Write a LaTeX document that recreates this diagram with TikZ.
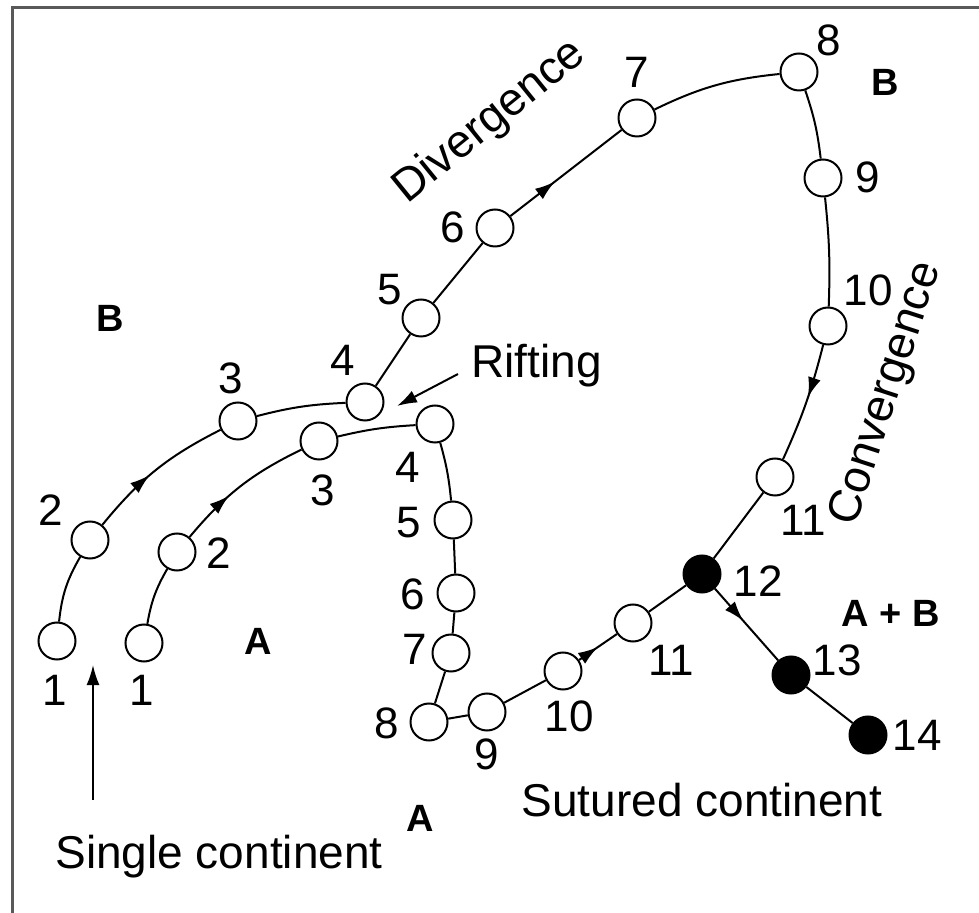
\documentclass[tikz,border=0pt]{standalone}
\usepackage{fontspec}
\setmainfont{Liberation Sans}
\usetikzlibrary{arrows.meta,decorations.markings}

\tikzset{
  plate/.style={circle, draw, line width=1pt, minimum size=18.5pt, inner sep=0pt, fill=white},
  sutured/.style={plate, fill=black},
  num/.style={font=\fontsize{22}{26}\selectfont, inner sep=0pt},
  caption/.style={font=\fontsize{23}{27}\selectfont, inner sep=0pt},
  region/.style={font=\fontsize{19}{22}\selectfont\bfseries, inner sep=0pt},
  track/.style={line width=1pt},
  midarrow/.style={postaction={decorate}, decoration={markings, mark=at position #1 with {\arrow{Latex[length=10pt,width=6.5pt]}}}},
  frame/.style={line width=1.5pt, gray!70!black}
}

\begin{document}
\begin{tikzpicture}[x=0.5pt, y=-0.5pt]
    \useasboundingbox (0,0) rectangle (979,913);
    \draw [frame] (12,913) -- (12,8) -- (979,8);

    % plate B
    \node [plate] (b1) at (57,641) {};
    \node [plate] (b2) at (90,540) {};
    \node [plate] (b3) at (238,421) {};
    \node [plate] (b4) at (365,402) {};
    \node [plate] (b5) at (421,318) {};
    \node [plate] (b6) at (495,228) {};
    \node [plate] (b7) at (637,118) {};
    \node [plate] (b8) at (799,72) {};
    \node [plate] (b9) at (823,178) {};
    \node [plate] (b10) at (828,326) {};
    \node [plate] (b11) at (775,477) {};
    \node [sutured] (b12) at (702,574) {};
    \node [sutured] (b13) at (791,675) {};
    \node [sutured] (b14) at (868,735) {};

    % plate A
    \node [plate] (a1) at (144,643) {};
    \node [plate] (a2) at (177,552) {};
    \node [plate] (a3) at (319,441) {};
    \node [plate] (a4) at (435,424) {};
    \node [plate] (a5) at (453,520) {};
    \node [plate] (a6) at (456,593) {};
    \node [plate] (a7) at (451,653) {};
    \node [plate] (a8) at (429,722) {};
    \node [plate] (a9) at (487,712) {};
    \node [plate] (a10) at (563,671) {};
    \node [plate] (a11) at (633,623) {};

    \draw [track] (b1) to[bend left=12] (b2);
    \draw [track,midarrow=0.45] (b2) to[bend left=12] (b3);
    \draw [track] (b3) to[bend left=6] (b4);
    \draw [track] (b4) -- (b5);
    \draw [track] (b5) -- (b6);
    \draw [track,midarrow=0.4] (b6) -- (b7);
    \draw [track] (b7) to[bend left=10] (b8);
    \draw [track] (b8) to[bend left=6] (b9);
    \draw [track] (b9) to[bend left=4] (b10);
    \draw [track,midarrow=0.45] (b10) to[bend left=5] (b11);
    \draw [track] (b11) -- (b12);
    \draw [track,midarrow=0.45] (b12) -- (b13);
    \draw [track] (b13) -- (b14);

    \draw [track] (a1) to[bend left=10] (a2);
    \draw [track,midarrow=0.4] (a2) to[bend left=12] (a3);
    \draw [track] (a3) to[bend left=5] (a4);
    \draw [track] (a4) to[bend left=5] (a5);
    \draw [track] (a5) -- (a6);
    \draw [track] (a6) -- (a7);
    \draw [track] (a7) -- (a8);
    \draw [track] (a8) -- (a9);
    \draw [track] (a9) -- (a10);
    \draw [track,midarrow=0.5] (a10) -- (a11);
    \draw [track] (a11) -- (b12);

    % step numbers
    \node [num] (nb1) at (55,690) {1};
    \node [num] (nb2) at (51,510) {2};
    \node [num] (nb3) at (231,378) {3};
    \node [num] (nb4) at (343,360) {4};
    \node [num] (nb5) at (390,290) {5};
    \node [num] (nb6) at (453,227) {6};
    \node [num] (nb7) at (637,72) {7};
    \node [num] (nb8) at (829,40) {8};
    \node [num] (nb9) at (868,177) {9};
    \node [num] (nb10) at (868,290) {10};
    \node [num] (nb11) at (803,520) {11};
    \node [num] (nb12) at (758,581) {12};
    \node [num] (nb13) at (837,660) {13};
    \node [num] (nb14) at (917,735) {14};
    \node [num] (na1) at (142,690) {1};
    \node [num] (na2) at (219,553) {2};
    \node [num] (na3) at (323,490) {3};
    \node [num] (na4) at (408,467) {4};
    \node [num] (na5) at (409,523) {5};
    \node [num] (na6) at (413,594) {6};
    \node [num] (na7) at (415,649) {7};
    \node [num] (na8) at (387,723) {8};
    \node [num] (na9) at (487,754) {9};
    \node [num] (na10) at (569,716) {10};
    \node [num] (na11) at (671,660) {11};

    % plates
    \node [region] (plB) at (110,318) {B};
    \node [region] (plA) at (258,641) {A};
    \node [region] (plBtop) at (885,82) {B};
    \node [region] (plAB) at (891,613) {A + B};
    \node [region] (plAbot) at (420,818) {A};

    \node [caption,rotate=39] (div) at (490,122) {Divergence};
    \node [caption,rotate=72] (conv) at (887,394) {Convergence};
    \node [caption,anchor=west] (rift) at (471,366) {Rifting};
    \node [caption] (sutured) at (702,800) {Sutured continent};
    \node [caption] (single) at (219,857) {Single continent};

    \coordinate (riftTail) at (458,374);
    \coordinate (riftTip) at (397,406);
    \coordinate (singleTail) at (93,800);
    \coordinate (singleTip) at (93,665);
    \draw [track,-{Latex[length=10pt,width=6.5pt]}] (riftTail) -- (riftTip);
    \draw [track,-{Latex[length=10pt,width=6.5pt]}] (singleTail) -- (singleTip);
\end{tikzpicture}
\end{document}
